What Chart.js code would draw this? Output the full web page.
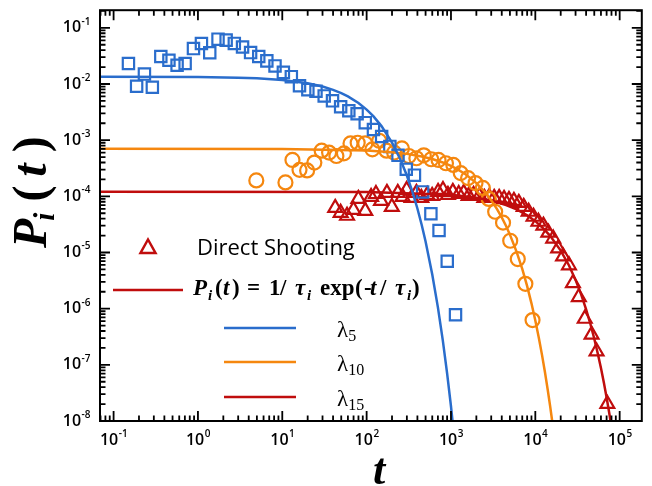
<!DOCTYPE html>
<html>
<head>
<meta charset="utf-8">
<script src="https://cdn.jsdelivr.net/npm/chart.js@4.4.0/dist/chart.umd.min.js"></script>
<style>
  html, body { margin: 0; padding: 0; background: #fff; }
  #wrap { width: 652px; height: 486px; }
</style>
</head>
<body>
<div id="wrap"><canvas id="chart" width="652" height="486"></canvas></div>
<script>
// axis ranges and tick labels (decade exponents)
const xMin = 0.069, xMax = 183000;
const yMin = 1e-8, yMax = 0.206;
const xTickExps = [-1, 0, 1, 2, 3, 4, 5];
const yTickExps = [-8, -7, -6, -5, -4, -3, -2, -1];

// lambda 5 (squares)
const tBlue = [0.150, 0.1875, 0.232, 0.288, 0.363, 0.453, 0.566, 0.705, 0.885, 1.10, 1.38, 1.73, 2.16, 2.70, 3.38, 4.21, 5.26, 6.56, 8.20, 10.3, 12.8, 16.0, 20.1, 25.1, 31.4, 39.4, 49.2, 61.5, 77.1, 96.3, 120.5, 150.7, 188.5, 235.6, 295, 369, 461, 578, 722, 903, 1132];
const pBlue = [0.0232, 0.0091, 0.0150, 0.00875, 0.0308, 0.0265, 0.0216, 0.0232, 0.0427, 0.0525, 0.0360, 0.0629, 0.0604, 0.0528, 0.0455, 0.0362, 0.0308, 0.0258, 0.0210, 0.0161, 0.0135, 0.00933, 0.00793, 0.00743, 0.00614, 0.00501, 0.00393, 0.00334, 0.00296, 0.00205, 0.00155, 0.00116, 7.74e-4, 5.37e-4, 3.04e-4, 2.38e-4, 1.20e-4, 4.90e-5, 2.46e-5, 6.97e-6, 7.78e-7];

// lambda 10 (circles)
const tOrange = [4.92, 10.9, 13.2, 16.0, 19.7, 24.0, 29.3, 35.9, 43.8, 53.8, 64.4, 78.3, 96.3, 117, 141, 172, 212, 262, 317, 389, 476, 583, 712, 872, 1066, 1305, 1596, 1953, 2388, 2805, 3341, 4143, 5039, 6194, 7621, 9268];
const pOrange = [1.92e-4, 1.77e-4, 4.44e-4, 2.96e-4, 2.89e-4, 3.99e-4, 6.50e-4, 6.00e-4, 5.22e-4, 5.82e-4, 8.75e-4, 9.00e-4, 8.75e-4, 6.86e-4, 9.76e-4, 6.50e-4, 6.00e-4, 7.14e-4, 5.22e-4, 4.76e-4, 5.37e-4, 4.57e-4, 4.44e-4, 3.88e-4, 3.62e-4, 2.59e-4, 2.11e-4, 1.72e-4, 1.41e-4, 8.99e-5, 5.31e-5, 3.40e-5, 1.62e-5, 7.65e-6, 2.77e-6, 6.27e-7];

// lambda 15 (triangles)
const tRed = [42.4, 49.2, 58.6, 69.8, 79.8, 96.3, 113, 129, 148, 174, 199, 234, 267, 298, 341, 389, 445, 523, 598, 703, 804, 920, 1052, 1236, 1415, 1618, 1850, 2173, 2488, 2845, 3253, 3724, 4258, 4868, 5572, 6370, 7283, 8337, 9530, 10890, 12470, 14260, 16300, 18660, 21330, 25060, 27920, 32810, 38550, 46450, 53210, 71450];
const pRed = [6.24e-5, 5.09e-5, 4.51e-5, 5.75e-5, 9.00e-5, 5.52e-5, 9.75e-5, 1.10e-4, 8.29e-5, 1.15e-4, 6.50e-5, 1.15e-4, 9.75e-5, 1.30e-4, 9.37e-5, 1.15e-4, 9.37e-5, 1.06e-4, 1.02e-4, 1.20e-4, 1.30e-4, 1.06e-4, 1.20e-4, 1.10e-4, 1.15e-4, 1.02e-4, 1.06e-4, 1.02e-4, 9.37e-5, 9.75e-5, 9.37e-5, 9.37e-5, 9.00e-5, 8.65e-5, 8.30e-5, 7.65e-5, 6.50e-5, 5.31e-5, 4.33e-5, 3.53e-5, 3.01e-5, 2.26e-5, 1.77e-5, 1.18e-5, 8.53e-6, 5.92e-6, 2.85e-6, 1.61e-6, 6.61e-7, 3.45e-7, 1.73e-7, 2.01e-8];

// fitted curves P_i(t) = 1/tau exp(-t/tau)
const tFitBlue = [0.069, 1, 3, 5, 10, 20, 30, 40, 50, 60, 80, 100, 120, 150, 200, 250, 300, 350, 400, 450, 500, 600, 700, 800, 900, 1000, 1100];
const pFitBlue = [0.01351, 0.01333, 0.01297, 0.01263, 0.01180, 0.01031, 0.00901, 0.007868, 0.00687, 0.006005, 0.00458, 0.003498, 0.00267, 0.001779, 9.05e-4, 4.61e-4, 2.344e-4, 1.192e-4, 6.08e-5, 3.09e-5, 1.571e-5, 4.07e-6, 1.053e-6, 2.73e-7, 7.05e-8, 1.83e-8, 4.7e-9];
const tFitOrange = [0.069, 10, 100, 200, 300, 450, 600, 800, 1000, 1200, 1500, 2000, 2500, 3000, 3500, 4000, 4500, 5000, 6000, 7000, 8000, 9000, 10000, 11000, 12000, 13000, 14000, 15000, 16000];
const pFitOrange = [7.04e-4, 6.99e-4, 6.56e-4, 6.11e-4, 5.70e-4, 5.13e-4, 4.61e-4, 4.01e-4, 3.48e-4, 3.02e-4, 2.449e-4, 1.721e-4, 1.211e-4, 8.51e-5, 5.99e-5, 4.21e-5, 2.96e-5, 2.08e-5, 1.029e-5, 5.09e-6, 2.516e-6, 1.244e-6, 6.15e-7, 3.04e-7, 1.504e-7, 7.44e-8, 3.68e-8, 1.82e-8, 8.99e-9];
const tFitRed = [0.069, 100, 1000, 2000, 3000, 4500, 6000, 8000, 10000, 12500, 15000, 20000, 25000, 30000, 35000, 40000, 45000, 50000, 55000, 60000, 65000, 70000, 75000, 80000];
const pFitRed = [1.205e-4, 1.19e-4, 1.068e-4, 9.47e-5, 8.40e-5, 7.01e-5, 5.85e-5, 4.60e-5, 3.61e-5, 2.67e-5, 1.978e-5, 1.082e-5, 5.93e-6, 3.25e-6, 1.776e-6, 9.73e-7, 5.33e-7, 2.92e-7, 1.597e-7, 8.75e-8, 4.79e-8, 2.62e-8, 1.434e-8, 7.86e-9];

const BLUE = '#2a6dcc';
const ORANGE = '#f5870f';
const RED = '#c00d0d';

const pts = (xs, ys) => xs.map((v, i) => ({ x: v, y: ys[i] }));

const SANS = '"Open Sans", "Noto Sans", sans-serif';
const SERIF = '"Liberation Serif", "DejaVu Serif", serif';

function drawPow(ctx, exp, x, y, align) {
  ctx.font = '600 16px ' + SANS;
  const wBase = ctx.measureText('10').width;
  ctx.font = '600 10px ' + SANS;
  const sup = String(exp);
  const wSup = ctx.measureText(sup).width;
  const total = wBase + wSup;
  let x0 = align === 'right' ? x - total : x - total / 2;
  ctx.textAlign = 'left';
  ctx.textBaseline = 'middle';
  ctx.font = '600 16px ' + SANS;
  ctx.fillText('10', x0, y);
  ctx.font = '600 10px ' + SANS;
  ctx.fillText(sup, x0 + wBase + 0.5, y - 6);
}

// runs either flow one after another or start at their own x
function drawRuns(ctx, runs, x, y) {
  ctx.textAlign = 'left';
  ctx.textBaseline = 'alphabetic';
  runs.forEach(r => {
    if (r.x !== undefined) x = r.x;
    ctx.font = r.font;
    ctx.fillText(r.text, x, y + (r.dy || 0));
    x += ctx.measureText(r.text).width + (r.gap || 0);
  });
  return x;
}

const axesPlugin = {
  id: 'axesPlugin',
  afterDraw(chart) {
    const { ctx, chartArea: a, scales: { x, y } } = chart;
    ctx.save();
    ctx.strokeStyle = '#000';
    ctx.fillStyle = '#000';
    ctx.lineWidth = 2;
    ctx.strokeRect(a.left, a.top, a.right - a.left, a.bottom - a.top);

    ctx.lineWidth = 1.8;
    ctx.beginPath();
    for (let d = -2; d <= 5; d++) {
      for (let m = 1; m <= 9; m++) {
        const v = m * Math.pow(10, d);
        if (v < xMin || v > xMax) continue;
        const px = x.getPixelForValue(v);
        const len = m === 1 ? 10 : 5.5;
        ctx.moveTo(px, a.bottom); ctx.lineTo(px, a.bottom - len);
        ctx.moveTo(px, a.top); ctx.lineTo(px, a.top + len);
      }
    }
    for (let d = -8; d <= -1; d++) {
      for (let m = 1; m <= 9; m++) {
        const v = m * Math.pow(10, d);
        if (v < yMin * 0.999 || v > yMax) continue;
        const py = y.getPixelForValue(v);
        const len = m === 1 ? 10 : 5.5;
        ctx.moveTo(a.left, py); ctx.lineTo(a.left + len, py);
        ctx.moveTo(a.right, py); ctx.lineTo(a.right - len, py);
      }
    }
    ctx.stroke();

    xTickExps.forEach(e => drawPow(ctx, e, x.getPixelForValue(Math.pow(10, e)), 440, 'center'));
    yTickExps.forEach(e => drawPow(ctx, e, 90, y.getPixelForValue(Math.pow(10, e)), 'right'));

    // axis titles
    const big = 'bold italic 48px ' + SERIF;
    const bigUp = 'bold 48px ' + SERIF;
    ctx.save();
    ctx.translate(46, 248);
    ctx.rotate(-Math.PI / 2);
    drawRuns(ctx, [
      { text: 'P', font: big, gap: -2 },
      { text: 'i', font: 'bold italic 29px ' + SERIF, dy: 8, gap: 11 },
      { text: '(', font: bigUp, gap: 9 },
      { text: 't', font: big, gap: 11 },
      { text: ')', font: bigUp }
    ], 0, 0);
    ctx.restore();
    ctx.textAlign = 'center';
    ctx.textBaseline = 'alphabetic';
    ctx.font = 'bold italic 44px ' + SERIF;
    ctx.fillText('t', 379, 484);

    // legend
    ctx.lineWidth = 2.5;
    ctx.strokeStyle = RED;
    ctx.beginPath();
    ctx.moveTo(148, 239.5); ctx.lineTo(155.5, 253); ctx.lineTo(140.5, 253); ctx.closePath();
    ctx.stroke();
    ctx.fillStyle = '#000';
    ctx.font = '22px ' + SANS;
    ctx.textAlign = 'left';
    ctx.fillText('Direct Shooting', 197, 255);

    const fb = 'bold 23px ' + SERIF, fi = 'bold italic 23px ' + SERIF;
    const fs = 'bold italic 15px ' + SERIF;
    ctx.beginPath(); ctx.moveTo(113, 290); ctx.lineTo(183, 290); ctx.stroke();
    drawRuns(ctx, [
      { text: 'P', font: fi, x: 193 },
      { text: 'i', font: fs, dy: 5, x: 208 },
      { text: '(', font: fb, x: 215 },
      { text: 't', font: fi, x: 223 },
      { text: ')', font: fb, x: 232 },
      { text: '=', font: fb, x: 247 },
      { text: '1', font: fb, x: 269 },
      { text: '/', font: fb, x: 280 },
      { text: 'τ', font: fi, x: 295 },
      { text: 'i', font: fs, dy: 5, x: 307 },
      { text: 'exp', font: fb, x: 320 },
      { text: '(', font: fb, x: 355 },
      { text: '-', font: fb, x: 364 },
      { text: 't', font: fi, x: 370 },
      { text: '/', font: fb, x: 380 },
      { text: 'τ', font: fi, x: 395 },
      { text: 'i', font: fs, dy: 5, x: 407 },
      { text: ')', font: fb, x: 412 }
    ], 193, 295);

    const lam = [[BLUE, '5', 328], [ORANGE, '10', 362], [RED, '15', 397]];
    lam.forEach(([c, sub, ly]) => {
      ctx.strokeStyle = c;
      ctx.lineWidth = 2.5;
      ctx.beginPath(); ctx.moveTo(224, ly); ctx.lineTo(296, ly); ctx.stroke();
      drawRuns(ctx, [
        { text: 'λ', font: '23px ' + SERIF },
        { text: sub, font: '16px ' + SERIF, dy: 4 }
      ], 337, ly + 9);
    });
    ctx.restore();
  }
};

const ctx = document.getElementById('chart').getContext('2d');
new Chart(ctx, {
  type: 'scatter',
  data: {
    datasets: [
      { data: pts(tFitBlue, pFitBlue), showLine: true, borderColor: BLUE, borderWidth: 2.5, pointRadius: 0, order: 0 },
      { data: pts(tFitOrange, pFitOrange), showLine: true, borderColor: ORANGE, borderWidth: 2.5, pointRadius: 0, order: 0 },
      { data: pts(tFitRed, pFitRed), showLine: true, borderColor: RED, borderWidth: 2.5, pointRadius: 0, order: 0 },
      { data: pts(tBlue, pBlue), pointStyle: 'rect', pointRadius: 8, borderColor: BLUE, borderWidth: 2.2, backgroundColor: 'rgba(0,0,0,0)', order: 1 },
      { data: pts(tOrange, pOrange), pointStyle: 'circle', pointRadius: 7, borderColor: ORANGE, borderWidth: 2.2, backgroundColor: 'rgba(0,0,0,0)', order: 1 },
      { data: pts(tRed, pRed), pointStyle: 'triangle', pointRadius: 8, borderColor: RED, borderWidth: 2.2, backgroundColor: 'rgba(0,0,0,0)', order: 1 }
    ]
  },
  options: {
    responsive: false,
    animation: false,
    devicePixelRatio: 1,
    layout: { padding: { left: 100, right: 1, top: 5, bottom: 65 } },
    plugins: { legend: { display: false }, tooltip: { enabled: false } },
    scales: {
      x: { type: 'logarithmic', min: xMin, max: xMax, display: false },
      y: { type: 'logarithmic', min: yMin, max: yMax, display: false }
    }
  },
  plugins: [axesPlugin]
});
</script>
</body>
</html>
